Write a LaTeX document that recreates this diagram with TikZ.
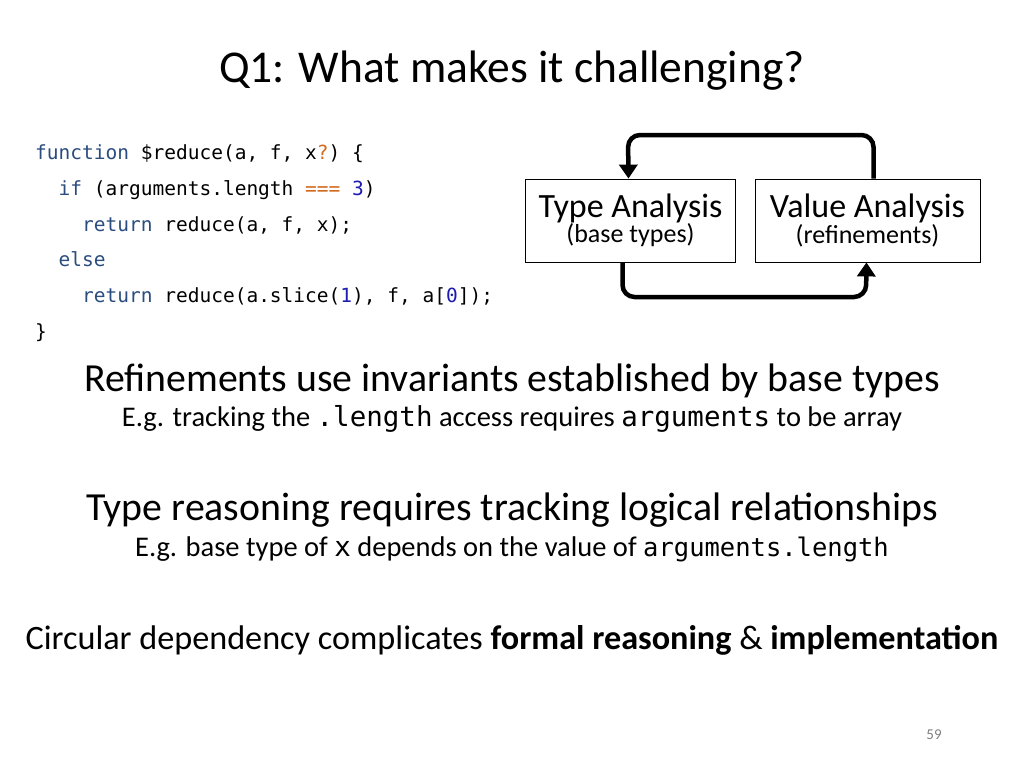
\documentclass[tikz,border=0pt]{standalone}
\usepackage{fontspec}
\setmainfont{Carlito}
\setmonofont{DejaVu Sans Mono}
\usetikzlibrary{arrows.meta}
\definecolor{kw}{HTML}{2B4C7E}
\definecolor{op}{HTML}{D2691E}
\definecolor{num}{HTML}{1C1CB0}
\newcommand{\kw}[1]{\textcolor{kw}{#1}}
\newcommand{\fs}[1]{\fontsize{#1}{#1}\selectfont}

\begin{document}
\begin{tikzpicture}[x=1pt,y=-1pt]
        \tikzset{box/.style = {draw, thick, minimum width=210pt, minimum height=83pt, inner sep=0pt, align=center}}
        \tikzset{loop/.style = {line width=4.5pt, rounded corners=12pt, -{Triangle[length=14pt,width=18pt]}}}
        \tikzset{code/.style = {anchor=base west, inner sep=0pt, font=\ttfamily\fs{19.5}}}
        \tikzset{line/.style = {anchor=base, inner sep=0pt}}

        \useasboundingbox (0,0) rectangle (1024,768);

        \node[line, font=\fs{45.5}] (title) at (512,82) {Q1: What makes it challenging?};

        \node[code] (c1) at (35,159) {\kw{function} \$reduce(a, f, x\textcolor{op}{?}) \{};
        \node[code] (c2) at (35,195) {\ \ \kw{if} (arguments.length \textcolor{op}{===} \textcolor{num}{3})};
        \node[code] (c3) at (35,231) {\ \ \ \ \kw{return} reduce(a, f, x);};
        \node[code] (c4) at (35,266) {\ \ \kw{else}};
        \node[code] (c5) at (35,302) {\ \ \ \ \kw{return} reduce(a.slice(\textcolor{num}{1}), f, a[\textcolor{num}{0}]);};
        \node[code] (c6) at (35,338) {\}};

        \node[box] (type) at (630.5,220.5) {{\fs{34}Type Analysis}\\[0pt]{\fs{26}(base types)}};
        \node[box, minimum width=225pt] (value) at (867.5,220.5) {{\fs{34}Value Analysis}\\[0pt]{\fs{26}(refinements)}};

        \draw[loop] ([xshift=6pt]value.north) |- (628,135) -- ([xshift=-2pt]type.north);
        \draw[loop] ([xshift=-8pt]type.south) |- (866,297) -- ([xshift=-1pt]value.south);

        \node[line, font=\fs{39.8}] (r1) at (512,391) {Refinements use invariants established by base types};
        \node[line, font=\fs{28.5}] (r2) at (512,426) {E.g. tracking the \texttt{\fs{27.5}.length} access requires \texttt{\fs{27.5}arguments} to be array};

        \node[line, font=\fs{39.8}] (t1) at (512,520) {Type reasoning requires tracking logical relationships};
        \node[line, font=\fs{28.5}] (t2) at (512,556) {E.g. base type of \texttt{\fs{27.5}x} depends on the value of \texttt{\fs{25.5}arguments.length}};

        \node[line, font=\fs{34.2}] (circ) at (512,649) {Circular dependency complicates \textbf{formal reasoning} \& \textbf{implementation}};

        \node[line, font=\fs{15}, text=gray] (page) at (934,739) {59};
\end{tikzpicture}
\end{document}
